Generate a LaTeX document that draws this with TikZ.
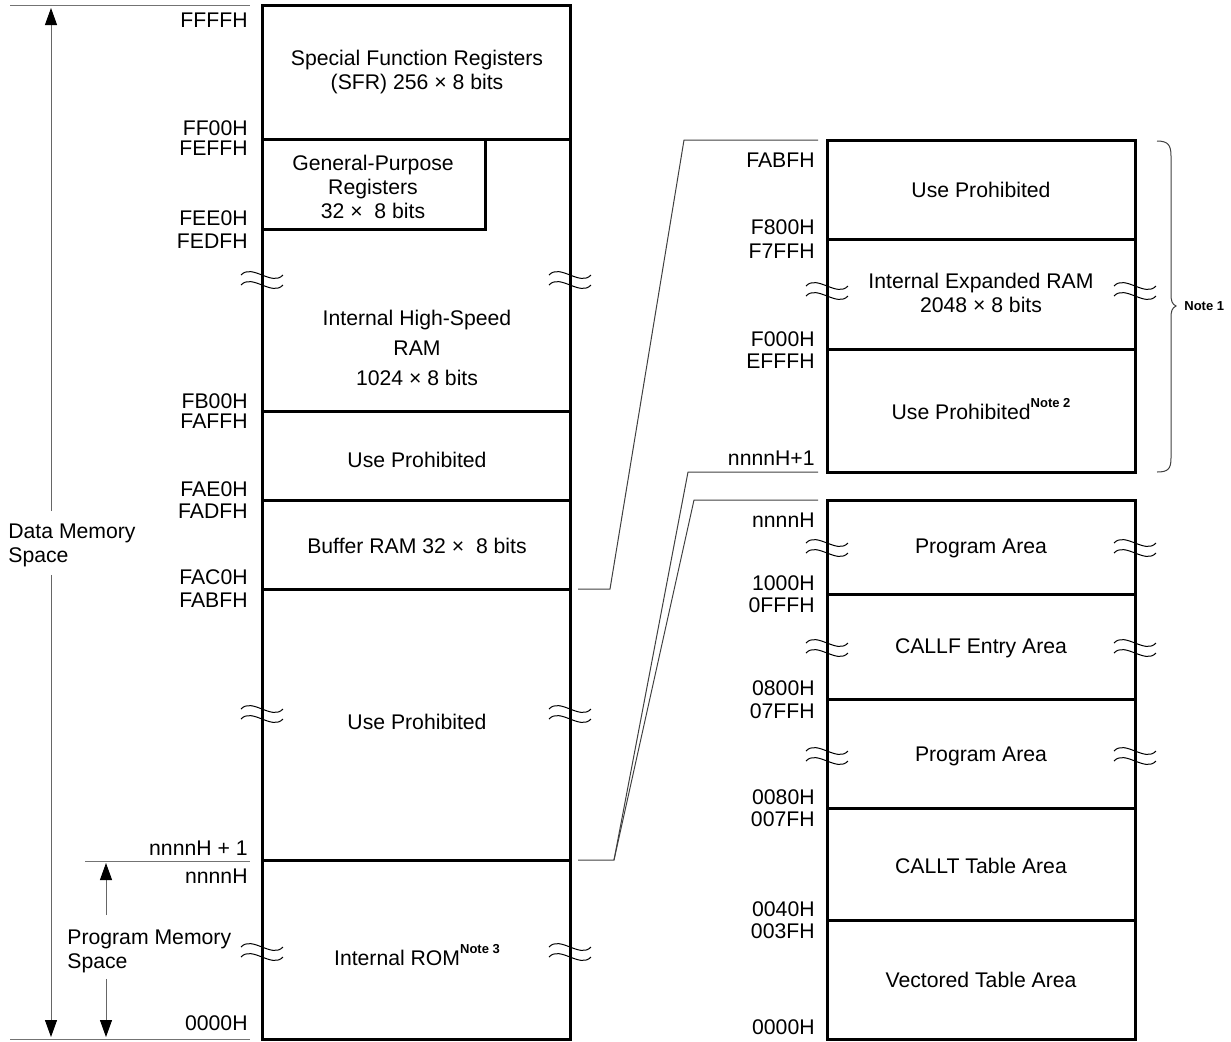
\documentclass[tikz,border=0pt]{standalone}
\usepackage{fontspec}
\setmainfont{Liberation Sans}
\usetikzlibrary{arrows.meta}
\usetikzlibrary{math}
\tikzset{blk/.style={line width=1.5pt},
	conn/.style={line width=0.5pt, draw=black!75},
	guide/.style={line width=0.5pt, draw=black!55},
	addr/.style={anchor=east, inner sep=0pt},
	txt/.style={align=center, inner sep=0pt},
	dimarr/.style={line width=0.5pt, draw=black!60, -{Triangle[length=8.5pt,width=6pt,color=black]}},
	brk/.pic={\draw[line width=0.5pt] (-21,-5) .. controls (-10,-17) and (10,7) .. (21,-5);
		\draw[line width=0.5pt] (-21,5) .. controls (-10,-7) and (10,17) .. (21,5);}}
\newcommand{\notesup}[1]{\raisebox{1.0ex}{\fontsize{6.5}{7}\selectfont\bfseries #1}}

\begin{document}
\begin{tikzpicture}[x=0.5pt,y=-0.5pt,font=\fontsize{10.6}{12}\selectfont]
	\tikzmath{\la=262; \lb=570; \ra=827; \rb=1135; \lc=417; \rc=981;
	\ytop=5; \ybot=1039; \uta=140; \utb=472; \lta=500;
	}
	\useasboundingbox (0,0) rectangle (1231,1041);
	% left column
	\draw[blk] (\la,\ytop) rectangle (\lb,\ybot);
	\foreach \y in {139,411,500,589,860} \draw[blk] (\la,\y) -- (\lb,\y);
	\draw[blk] (\la,229) -- (485,229) -- (485,139);
	\foreach \y in {280,714,952} {\pic at (\la,\y) {brk}; \pic at (\lb,\y) {brk};}
	\foreach \t/\y in {FFFFH/20, FF00H/128, FEFFH/148, FEE0H/218, FEDFH/241, FB00H/401, FAFFH/421, FAE0H/489, FADFH/511, FAC0H/577, FABFH/600, nnnnH + 1/848, nnnnH/876, 0000H/1023}
		\node[addr] (la\y) at (248,\y) {\t};
	\node[txt] (sfr) at (\lc,72) {Special Function Registers\\(SFR) 256 × 8 bits};
	\node[txt] (gpr) at (373,187) {General-Purpose\\Registers\\32 ×~~8 bits};
	\node[txt, font=\fontsize{10.6}{15}\selectfont] (hsram) at (\lc,348) {Internal High-Speed\\RAM\\1024 × 8 bits};
	\node[txt] (upa) at (\lc,460) {Use Prohibited};
	\node[txt] (bufram) at (\lc,546) {Buffer RAM 32 ×~~8 bits};
	\node[txt] (upb) at (\lc,722) {Use Prohibited};
	\node[txt] (rom) at (\lc,955) {Internal ROM\notesup{Note 3}};
	% space arrows
	\draw[guide] (10,\ytop) -- (250,\ytop);
	\draw[guide] (10,\ybot) -- (250,\ybot);
	\draw[guide] (85,861) -- (250,861);
	\coordinate (dtop) at (51,8);
	\coordinate (dbot) at (51,1037);
	\coordinate (ptop) at (106,863);
	\coordinate (pbot) at (106,1037);
	\node[align=left, anchor=west, inner sep=0pt] (dms) at (8,545) {Data Memory\\Space};
	\node[align=left, anchor=west, inner sep=0pt] (pms) at (67,951) {Program Memory\\Space};
	\draw[dimarr, shorten <=6pt] (dms.north -| dtop) -- (dtop);
	\draw[dimarr, shorten <=4pt] (dms.south -| dbot) -- (dbot);
	\draw[dimarr, shorten <=7pt] (pms.north -| ptop) -- (ptop);
	\draw[dimarr, shorten <=3pt] (pms.south -| pbot) -- (pbot);
	% right column, upper
	\draw[blk] (\ra,\uta) rectangle (\rb,\utb);
	\foreach \y in {239,349} \draw[blk] (\ra,\y) -- (\rb,\y);
	\pic at (\ra,291) {brk}; \pic at (\rb,291) {brk};
	% right column, lower
	\draw[blk] (\ra,\lta) rectangle (\rb,\ybot);
	\foreach \y in {594,699,808,920} \draw[blk] (\ra,\y) -- (\rb,\y);
	\foreach \y in {548,648,756} {\pic at (\ra,\y) {brk}; \pic at (\rb,\y) {brk};}
	\foreach \t/\y in {FABFH/160, F800H/227, F7FFH/251, F000H/339, EFFFH/361, nnnnH+1/458, nnnnH/520, 1000H/583, 0FFFH/605, 0800H/688, 07FFH/711, 0080H/797, 007FH/819, 0040H/909, 003FH/931, 0000H/1027}
		\node[addr] (ra\y) at (815,\y) {\t};
	\node[txt] (upc) at (\rc,190) {Use Prohibited};
	\node[txt] (exram) at (\rc,293) {Internal Expanded RAM\\2048 × 8 bits};
	\node[txt] (upd) at (\rc,409) {Use Prohibited\notesup{Note 2}};
	\node[txt] (pga) at (\rc,548) {Program Area};
	\node[txt] (callf) at (\rc,648) {CALLF Entry Area};
	\node[txt] (pgb) at (\rc,756) {Program Area};
	\node[txt] (callt) at (\rc,866) {CALLT Table Area};
	\node[txt] (vect) at (\rc,980) {Vectored Table Area};
	% brace
	\draw[conn] (1157,141) .. controls (1168,141) and (1171,145) .. (1171,156) -- (1171,294)
		.. controls (1171,301) and (1172,304) .. (1176,306) .. controls (1172,308) and (1171,311) .. (1171,318)
		-- (1171,458) .. controls (1171,469) and (1168,472) .. (1157,472);
	\node[anchor=west, inner sep=0pt, font=\fontsize{6.5}{7}\selectfont\bfseries] (nta) at (1184,306) {Note 1};
	% connectors
	\coordinate (ca) at (578,589);
	\coordinate (cb) at (610,589);
	\coordinate (cc) at (684,140);
	\coordinate (cd) at (818,140);
	\draw[conn] (ca) -- (cb) -- (cc) -- (cd);
	\coordinate (da) at (578,860);
	\coordinate (db) at (614,860);
	\coordinate (dc) at (688,472);
	\coordinate (dd) at (818,472);
	\coordinate (ec) at (694,500);
	\coordinate (ed) at (818,500);
	\draw[conn] (da) -- (db) -- (dc) -- (dd);
	\draw[conn] (db) -- (ec) -- (ed);
\end{tikzpicture}
\end{document}
